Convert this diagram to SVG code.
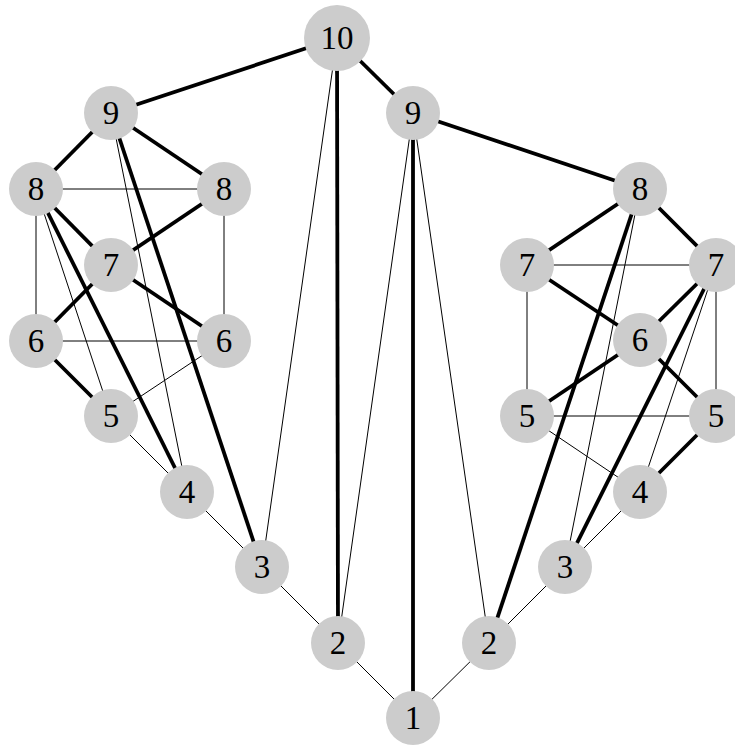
<svg xmlns="http://www.w3.org/2000/svg" width="735" height="745" viewBox="0 0 735 745">
<style>
.thin{stroke:#000;stroke-width:1;fill:none}
.thick{stroke:#000;stroke-width:3.8;fill:none}
.n circle{fill:#cccccc}
.n text{font-family:"Liberation Serif","DejaVu Serif",serif;font-size:33px;text-anchor:middle;fill:#000}
</style>
<rect width="735" height="745" fill="#fff"/>
<g id="connectors">
<line class="thin" x1="413" y1="718" x2="338" y2="643"/>
<line class="thin" x1="413" y1="718" x2="489" y2="643"/>
<line class="thick" x1="413" y1="718" x2="413" y2="113"/>
<line class="thin" x1="338" y1="643" x2="262" y2="567"/>
<line class="thick" x1="338" y1="643" x2="337" y2="38"/>
<line class="thin" x1="338" y1="643" x2="413" y2="113"/>
<line class="thin" x1="489" y1="643" x2="413" y2="113"/>
<line class="thick" x1="489" y1="643" x2="640" y2="189"/>
<line class="thin" x1="489" y1="643" x2="565" y2="567"/>
<line class="thin" x1="262" y1="567" x2="337" y2="38"/>
<line class="thick" x1="262" y1="567" x2="111" y2="113"/>
<line class="thin" x1="262" y1="567" x2="187" y2="492"/>
<line class="thin" x1="187" y1="492" x2="111" y2="416"/>
<line class="thick" x1="187" y1="492" x2="36" y2="189"/>
<line class="thin" x1="187" y1="492" x2="111" y2="113"/>
<line class="thick" x1="111" y1="416" x2="36" y2="341"/>
<line class="thin" x1="111" y1="416" x2="36" y2="189"/>
<line class="thin" x1="111" y1="416" x2="224" y2="341"/>
<line class="thick" x1="36" y1="341" x2="111" y2="265"/>
<line class="thin" x1="36" y1="341" x2="36" y2="189"/>
<line class="thin" x1="36" y1="341" x2="224" y2="341"/>
<line class="thick" x1="111" y1="265" x2="36" y2="189"/>
<line class="thick" x1="111" y1="265" x2="224" y2="189"/>
<line class="thick" x1="111" y1="265" x2="224" y2="341"/>
<line class="thick" x1="36" y1="189" x2="111" y2="113"/>
<line class="thin" x1="36" y1="189" x2="224" y2="189"/>
<line class="thick" x1="224" y1="189" x2="111" y2="113"/>
<line class="thin" x1="224" y1="189" x2="224" y2="341"/>
<line class="thick" x1="111" y1="113" x2="337" y2="38"/>
<line class="thick" x1="337" y1="38" x2="413" y2="113"/>
<line class="thick" x1="413" y1="113" x2="640" y2="189"/>
<line class="thick" x1="640" y1="189" x2="527" y2="265"/>
<line class="thick" x1="640" y1="189" x2="716" y2="265"/>
<line class="thin" x1="640" y1="189" x2="565" y2="567"/>
<line class="thin" x1="527" y1="265" x2="716" y2="265"/>
<line class="thick" x1="527" y1="265" x2="640" y2="340"/>
<line class="thin" x1="527" y1="265" x2="527" y2="416"/>
<line class="thick" x1="716" y1="265" x2="640" y2="340"/>
<line class="thin" x1="716" y1="265" x2="716" y2="416"/>
<line class="thick" x1="716" y1="265" x2="565" y2="567"/>
<line class="thin" x1="716" y1="265" x2="640" y2="492"/>
<line class="thick" x1="640" y1="340" x2="527" y2="416"/>
<line class="thick" x1="640" y1="340" x2="716" y2="416"/>
<line class="thin" x1="527" y1="416" x2="716" y2="416"/>
<line class="thin" x1="527" y1="416" x2="640" y2="492"/>
<line class="thick" x1="716" y1="416" x2="640" y2="492"/>
<line class="thin" x1="640" y1="492" x2="565" y2="567"/>
</g>
<g id="n10" class="n"><circle cx="337" cy="38" r="33"/><text x="337" y="49">10</text></g>
<g id="n9L" class="n"><circle cx="111" cy="113" r="27"/><text x="111" y="124">9</text></g>
<g id="n9R" class="n"><circle cx="413" cy="113" r="27"/><text x="413" y="124">9</text></g>
<g id="n8L" class="n"><circle cx="36" cy="189" r="27"/><text x="36" y="200">8</text></g>
<g id="n8L2" class="n"><circle cx="224" cy="189" r="27"/><text x="224" y="200">8</text></g>
<g id="n7L" class="n"><circle cx="111" cy="265" r="27"/><text x="111" y="276">7</text></g>
<g id="n6L" class="n"><circle cx="36" cy="341" r="27"/><text x="36" y="352">6</text></g>
<g id="n6L2" class="n"><circle cx="224" cy="341" r="27"/><text x="224" y="352">6</text></g>
<g id="n5L" class="n"><circle cx="111" cy="416" r="27"/><text x="111" y="427">5</text></g>
<g id="n4L" class="n"><circle cx="187" cy="492" r="27"/><text x="187" y="503">4</text></g>
<g id="n3L" class="n"><circle cx="262" cy="567" r="27"/><text x="262" y="578">3</text></g>
<g id="n2L" class="n"><circle cx="338" cy="643" r="27"/><text x="338" y="654">2</text></g>
<g id="n1" class="n"><circle cx="413" cy="718" r="27"/><text x="413" y="729">1</text></g>
<g id="n2R" class="n"><circle cx="489" cy="643" r="27"/><text x="489" y="654">2</text></g>
<g id="n3R" class="n"><circle cx="565" cy="567" r="27"/><text x="565" y="578">3</text></g>
<g id="n4R" class="n"><circle cx="640" cy="492" r="27"/><text x="640" y="503">4</text></g>
<g id="n5R2" class="n"><circle cx="527" cy="416" r="27"/><text x="527" y="427">5</text></g>
<g id="n5R" class="n"><circle cx="716" cy="416" r="27"/><text x="716" y="427">5</text></g>
<g id="n6R" class="n"><circle cx="640" cy="340" r="27"/><text x="640" y="351">6</text></g>
<g id="n7R" class="n"><circle cx="527" cy="265" r="27"/><text x="527" y="276">7</text></g>
<g id="n7R2" class="n"><circle cx="716" cy="265" r="27"/><text x="716" y="276">7</text></g>
<g id="n8R" class="n"><circle cx="640" cy="189" r="27"/><text x="640" y="200">8</text></g>
</svg>
